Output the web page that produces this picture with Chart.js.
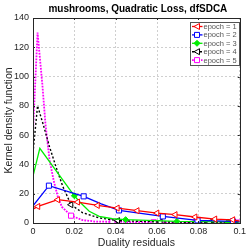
<!DOCTYPE html>
<html>
<head>
<meta charset="utf-8">
<script src="https://cdn.jsdelivr.net/npm/chart.js@4/dist/chart.umd.min.js"></script>
<style>
  html, body { margin: 0; padding: 0; background: #fff; }
</style>
</head>
<body>
<canvas id="chart" width="249" height="249"></canvas>
<script>
const TITLE = 'mushrooms, Quadratic Loss, dfSDCA';
const X_LABEL = 'Duality residuals';
const Y_LABEL = 'Kernel density function';
const X_TICKS = [0, 0.02, 0.04, 0.06, 0.08, 0.1];
const X_TICK_LABELS = ['0', '0.02', '0.04', '0.06', '0.08', '0.1'];
const Y_TICKS = [0, 20, 40, 60, 80, 100, 120, 140];

// epoch = 1
const e1X = [0, 0.0024, 0.012, 0.0216, 0.0312, 0.0408, 0.0504, 0.06, 0.0688, 0.0784, 0.088, 0.0967, 0.1];
const e1Y = [9.5, 11.3, 15.9, 14.3, 12, 10.2, 8.4, 6.8, 5.7, 4.1, 2.7, 2.2, 1.3];
const e1Marks = [1, 2, 3, 4, 5, 6, 7, 8, 9, 10, 11];
// epoch = 2
const e2X = [0, 0.0077, 0.0245, 0.033, 0.0416, 0.0628, 0.0796, 0.0967, 0.1];
const e2Y = [11.8, 25.5, 18.2, 13, 8.6, 4.5, 1.8, 1.1, 0.8];
const e2Marks = [1, 2, 4, 5, 6, 7];
// epoch = 3
const e3X = [0, 0.0033, 0.02, 0.0224, 0.0272, 0.032, 0.0384, 0.0448, 0.0696, 0.0943, 0.1];
const e3Y = [32, 51, 18.6, 14.7, 8, 4.5, 2.9, 2.3, 1.1, 0.7, 0.6];
const e3Marks = [2, 7, 8, 9];
// epoch = 4
const e4X = [0, 0.0022, 0.005, 0.008, 0.0112, 0.0144, 0.0184, 0.024, 0.032, 0.041, 0.0616, 0.0855, 0.1];
const e4Y = [48, 80, 67, 52, 38, 25, 12.5, 7, 3.5, 1.6, 0.7, 0.4, 0.3];
const e4Marks = [6, 9, 10, 11];
// epoch = 5
const e5X = [0, 0.0022, 0.0045, 0.006, 0.008, 0.01, 0.012, 0.014, 0.0184, 0.024, 0.03, 0.0384, 0.0584, 0.0787, 0.0995];
const e5Y = [62, 130, 95, 68, 43, 29, 18, 11, 5, 2, 1, 0.8, 0.5, 0.4, 0.3];
const e5Marks = [8, 11, 12, 13, 14];

const pts = (xs, ys) => xs.map((x, i) => ({ x, y: ys[i] }));

function series(label, xs, ys, marks, color, style) {
  return {
    label,
    data: pts(xs, ys),
    borderColor: color,
    backgroundColor: style.fill ? color : '#fff',
    borderWidth: style.width || 1.3,
    borderDash: style.dash || [],
    pointStyle: style.point,
    rotation: style.rotation || 0,
    pointBorderColor: color,
    pointBackgroundColor: style.fill ? color : '#fff',
    pointBorderWidth: 1,
    pointRadius: ctx => marks.includes(ctx.dataIndex) ? style.radius : 0,
    tension: 0,
    fill: false,
  };
}

const datasets = [
  series('epoch = 1', e1X, e1Y, e1Marks, '#ff0000', { point: 'triangle', rotation: -90, radius: 3.5 }),
  series('epoch = 2', e2X, e2Y, e2Marks, '#0000ff', { point: 'rect', radius: 3.6 }),
  series('epoch = 3', e3X, e3Y, e3Marks, '#00ee00', { point: 'rectRot', radius: 3, fill: true }),
  series('epoch = 4', e4X, e4Y, e4Marks, '#000000', { point: 'triangle', rotation: -90, radius: 3.5, dash: [2, 2], width: 1.4 }),
  series('epoch = 5', e5X, e5Y, e5Marks, '#ff00ff', { point: 'rect', radius: 3.6, dash: [1.8, 1.2], width: 1.8 }),
];

function drawMarker(ctx, ds, x, y) {
  ctx.save();
  ctx.strokeStyle = ds.borderColor;
  ctx.fillStyle = ds.pointBackgroundColor;
  ctx.lineWidth = 1;
  ctx.setLineDash([]);
  ctx.beginPath();
  if (ds.pointStyle === 'triangle') {
    ctx.moveTo(x - 3, y); ctx.lineTo(x + 2.5, y - 3); ctx.lineTo(x + 2.5, y + 3); ctx.closePath();
  } else if (ds.pointStyle === 'rect') {
    ctx.rect(x - 2.5, y - 2.5, 5, 5);
  } else {
    ctx.moveTo(x, y - 3); ctx.lineTo(x + 3, y); ctx.lineTo(x, y + 3); ctx.lineTo(x - 3, y); ctx.closePath();
  }
  ctx.fill(); ctx.stroke();
  ctx.restore();
}

const frame = {
  id: 'frame',
  afterDraw(chart) {
    const ctx = chart.ctx, a = chart.chartArea;
    const xs = chart.scales.x, ys = chart.scales.y;
    ctx.save();
    // box and inner ticks
    ctx.strokeStyle = '#262626';
    ctx.lineWidth = 1;
    ctx.strokeRect(Math.round(a.left) + 0.5, Math.round(a.top) + 0.5, Math.round(a.right - a.left), Math.round(a.bottom - a.top));
    ctx.beginPath();
    X_TICKS.forEach(v => {
      const px = Math.round(xs.getPixelForValue(v)) + 0.5;
      ctx.moveTo(px, a.bottom); ctx.lineTo(px, a.bottom - 2);
      ctx.moveTo(px, a.top); ctx.lineTo(px, a.top + 2);
    });
    Y_TICKS.forEach(v => {
      const py = Math.round(ys.getPixelForValue(v)) + 0.5;
      ctx.moveTo(a.left, py); ctx.lineTo(a.left + 2, py);
      ctx.moveTo(a.right, py); ctx.lineTo(a.right - 2, py);
    });
    ctx.stroke();

    // title
    ctx.fillStyle = '#000';
    ctx.font = 'bold 10px "Liberation Sans", Arial, sans-serif';
    ctx.textAlign = 'center';
    ctx.textBaseline = 'middle';
    ctx.fillText(TITLE, (a.left + a.right) / 2 + 1.5, 9);

    // legend box
    const w = 49, h = 43;
    const lx = Math.round(a.right) - w - 0.5, ly = Math.round(a.top) + 4.5;
    ctx.fillStyle = '#fff';
    ctx.fillRect(lx, ly, w, h);
    ctx.strokeStyle = '#555';
    ctx.strokeRect(lx, ly, w, h);
    ctx.font = '7.5px "Liberation Sans", Arial, sans-serif';
    ctx.textAlign = 'left';
    chart.data.datasets.forEach((ds, i) => {
      const cy = ly + 4 + i * 8.4;
      ctx.save();
      ctx.strokeStyle = ds.borderColor;
      ctx.lineWidth = ds.borderWidth;
      ctx.setLineDash(ds.borderDash);
      ctx.beginPath();
      ctx.moveTo(lx + 1.5, cy); ctx.lineTo(lx + 12, cy);
      ctx.stroke();
      ctx.restore();
      drawMarker(ctx, ds, lx + 6.5, cy);
      ctx.fillStyle = '#555';
      ctx.fillText(ds.label, lx + 13, cy + 0.5);
    });
    ctx.restore();
  },
};

Chart.defaults.font.family = '"Liberation Sans", Arial, sans-serif';

new Chart(document.getElementById('chart'), {
  type: 'line',
  data: { datasets },
  plugins: [frame],
  options: {
    responsive: false,
    animation: false,
    events: [],
    layout: { padding: { top: 18, right: 8, left: 0, bottom: 0 } },
    plugins: { legend: { display: false }, title: { display: false }, tooltip: { enabled: false } },
    scales: {
      x: {
        type: 'linear', min: 0, max: 0.1,
        afterBuildTicks: s => { s.ticks = X_TICKS.map(v => ({ value: v })); },
        afterFit: s => { s.height = 26; },
        ticks: {
          padding: 3, color: '#262626', font: { size: 9 }, maxRotation: 0,
          callback: (v) => X_TICK_LABELS[X_TICKS.indexOf(v)] ?? '',
        },
        grid: { color: '#cfcfcf', drawTicks: false, lineWidth: 1 },
        border: { display: false, dash: [2, 2] },
        title: { display: true, text: X_LABEL, color: '#262626', font: { size: 10.5 }, padding: { top: 0, bottom: 0 } },
      },
      y: {
        min: 0, max: 140,
        afterBuildTicks: s => { s.ticks = Y_TICKS.map(v => ({ value: v })); },
        afterFit: s => { s.width = 33; },
        ticks: { padding: 4, color: '#262626', font: { size: 9 } },
        grid: { color: '#cfcfcf', drawTicks: false, lineWidth: 1 },
        border: { display: false, dash: [2, 2] },
        title: { display: true, text: Y_LABEL, color: '#262626', font: { size: 10.5 }, padding: { top: 2.5, bottom: 0 } },
      },
    },
  },
});
</script>
</body>
</html>
